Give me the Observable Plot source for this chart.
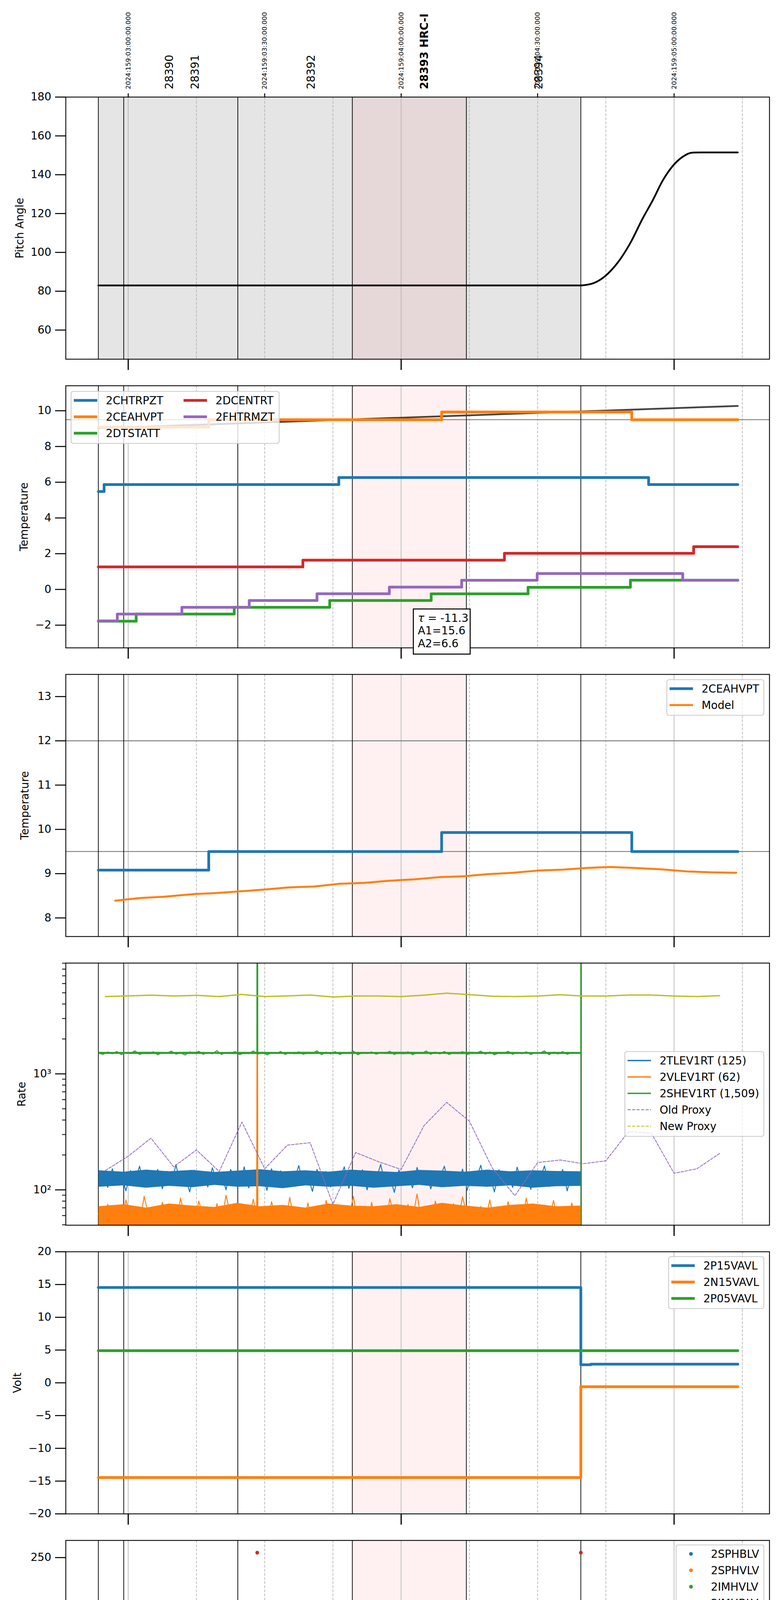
<!DOCTYPE html>
<html><head><meta charset="utf-8">
<script src="https://cdn.jsdelivr.net/npm/d3@7"></script>
<script src="https://cdn.jsdelivr.net/npm/@observablehq/plot@0.6"></script>
<style>
body{margin:0;background:#fff;}
#page{position:relative;width:2000px;height:6200px;background:#fff;font-family:"DejaVu Sans";overflow:hidden;}
#page svg{position:absolute;left:0;overflow:visible;}
</style></head><body><div id="page"></div>
<script>
// ---------------- DATA (time in minutes relative to 23h local = 2024:159:03:00 UTC) ----------------
const hourTicks = [0, 60, 120];
const hourLabels = ["23h", "00h", "01h"];
const minorTicks = [15, 30, 45, 75, 90, 105, 135];
const minorLabels = ["15", "30", "45", "15", "30", "45", "15"];
const halfHourTicks = [0, 30, 60, 90, 120];
const halfHourLabels = ["2024:159:03:00:00.000", "2024:159:03:30:00.000", "2024:159:04:00:00.000", "2024:159:04:30:00.000", "2024:159:05:00:00.000"];
const obsidTimes = [9.09, 14.78, 40.27, 65.14, 90.3];
const obsidLabels = ["28390", "28391", "28392", "28393 HRC-I", "28394"];
const obsBoundaries = [-6.57, -0.99, 24.09, 49.27, 74.34, 99.5];
const grayShade = [[-6.57, 99.5]];
const pinkShade = [[49.27, 74.34]];
const xDomain = [-13.72, 140.97];
const xLabel = "2024-06-07 (159)";

// Panel 1: pitch
const pitch = [[-6.57,83.0],[99.5,83.0],[101.0,83.4],[102.1,84.0],[104.8,87.7],[107.6,94.7],[110.3,104.5],[113.1,117.5],[115.3,126.8],[117.5,137.0],[119.7,144.5],[121.8,149.1],[124.0,151.4],[126.0,151.5],[134.0,151.5]];

// Panel 2: temperatures
const CHTRPZT = [[-6.57,5.48],[-5.3,5.87],[46.3,6.26],[114.4,5.87],[134.0,5.87]];
const CEAHVPT = [[-6.57,9.08],[17.7,9.5],[68.9,9.93],[110.7,9.5],[134.0,9.5]];
const DTSTATT = [[-6.57,-1.78],[1.75,-1.38],[23.3,-1.0],[44.3,-0.62],[66.6,-0.25],[87.9,0.12],[110.4,0.52],[134.0,0.52]];
const DCENTRT = [[-6.57,1.26],[38.4,1.64],[82.7,2.02],[124.3,2.39],[134.0,2.39]];
const FHTRMZT = [[-6.57,-1.76],[-2.4,-1.38],[11.8,-1.0],[26.6,-0.62],[41.5,-0.24],[57.4,0.13],[73.3,0.51],[89.9,0.89],[121.9,0.51],[134.0,0.51]];
const CEAHVPT_TREND = [[-6.57,9.02],[134.0,10.27]];
const fitText = ["= -11.3", "A1=15.6", "A2=6.6"];

// Panel 3: 2CEAHVPT vs model
const CEAHVPT_MODEL = [[-2.85,8.39],[2.52,8.45],[7.99,8.48],[14.56,8.54],[18.94,8.56],[24.41,8.60],[29.89,8.64],[35.36,8.69],[40.84,8.71],[46.31,8.77],[51.79,8.79],[57.26,8.84],[62.74,8.87],[68.21,8.92],[73.68,8.94],[79.16,8.99],[84.64,9.02],[90.10,9.07],[95.58,9.09],[101.06,9.13],[105.98,9.15],[110.91,9.13],[116.93,9.10],[122.95,9.05],[128.43,9.03],[133.68,9.02]];
const limits3 = [12, 9.5];

// Panel 4: rates (sampled every 1 min from noiseStart)
const noiseStart = -6.5, noiseStep = 1;
const TLEV1RT = [118,140,105,152,112,135,98,147,120,160, 108,138,126,150,102,145,115,165,110,132, 96,148,124,140,106,155,118,136,100,150, 128,112,158,104,142,120,134,99,152,116, 146,108,138,122,162,110,130,97,150,118, 144,106,137,125,158,103,141,114,149,100, 136,122,166,109,131,95,148,120,139,104, 156,117,145,102,133,127,160,108,142,113, 151,99,138,124,163,111,135,96,149,119, 143,105,157,115,139,101,146,123,161,107, 134,112,150,98,141,120,130];
const VLEV1RT = [62,48,75,55,68,45,82,58,70,50, 88,60,66,47,78,54,72,46,85,57, 64,49,80,59,69,44,76,52,90,61, 67,48,74,56,83,50,65,46,79,58, 71,47,86,55,63,49,77,53,70,45, 81,60,66,48,73,57,88,51,64,46, 78,54,69,47,84,59,62,50,75,56, 92,52,68,45,80,58,65,49,76,53, 87,60,63,47,72,55,82,51,67,46, 79,57,70,48,85,54,64,50,74,56, 81,52,66,47,77,58,69];
const SHEV1RT = [1510,1475,1545,1490,1560,1465,1530,1500,1580,1470, 1520,1495,1550,1460,1535,1505,1570,1480,1515,1455, 1545,1500,1565,1475,1525,1490,1585,1470,1530,1510, 1555,1465,1520,1495,1575,1480,1540,1460,1515,1500, 1560,1470,1535,1490,1550,1475,1525,1505,1580,1465, 1540,1485,1555,1470,1520,1500,1570,1460,1530,1495, 1545,1480,1515,1505,1565,1470,1535,1490,1550,1465, 1525,1500,1575,1475,1540,1485,1560,1470,1520,1495, 1555,1465,1530,1505,1570,1480,1545,1460,1515,1500, 1565,1475,1535,1490,1550,1470,1525,1505,1580,1465, 1540,1485,1555,1475,1520,1500,1510];
const bandT = [-6.5,-1,4,9,14,19,24,29,34,39,44,49,54,59,64,69,74,79,84,89,94,99.5];
const TLEV_LO = [106,109,104,108,105,110,106,107,103,109,106,108,104,107,110,105,108,106,109,104,107,108];
const TLEV_HI = [147,143,149,144,148,142,146,150,144,147,143,149,145,142,148,146,143,149,144,147,145,144];
const VLEV_LO = [40,40,40,40,40,40,40,40,40,40,40,40,40,40,40,40,40,40,40,40,40,40];
const VLEV_HI = [72,75,70,76,73,71,77,72,74,70,76,73,72,75,71,77,73,70,74,76,72,73];
const SHEV_LO = [1478,1482,1475,1480,1477,1483,1476,1479,1481,1474,1480,1478,1482,1476,1479,1481,1475,1480,1477,1483,1478,1480];
const SHEV_HI = [1542,1538,1546,1540,1544,1537,1543,1541,1539,1545,1540,1542,1538,1544,1541,1539,1545,1540,1543,1537,1542,1540];
const VLEV_GLITCH = [[28.26,60],[28.32,1480],[28.42,1480],[28.48,60]];
const SHEV_GLITCH1 = [[28.3,1509],[28.34,1e6],[28.42,1e6],[28.46,1509]];
const SHEV_GLITCH2 = [[99.5,1509],[99.5,1e6],[99.6,1e6],[99.6,1]];
const proxyT = [-5,0,5,10,15,20,25,30,35,40,45,50,55,60,65,70,75,80,85,90,95,100,105,110,115,120,125,130];
const oldProxy = [147,195,279,158,221,144,384,152,243,255,75,210,175,150,357,568,391,155,89,172,181,168,178,318,308,139,152,206];
const newProxy = [4640,4700,4770,4690,4755,4640,4840,4640,4700,4780,4600,4690,4690,4640,4770,4960,4820,4670,4640,4690,4810,4690,4690,4780,4780,4690,4640,4720];
const rateMajor = [100, 1000], rateMajorLabels = ["10²", "10³"];
const rateMinor = [50,60,70,80,90,200,300,400,500,600,700,800,900,2000,3000,4000,5000,6000,7000,8000,9000];

// Panel 5: volts
const P15VAVL = [[-6.57,14.55],[99.5,2.75],[101.7,2.85],[134.0,2.85]];
const N15VAVL = [[-6.57,-14.45],[99.5,-0.6],[134.0,-0.6]];
const P05VAVL = [[-6.57,4.9],[134.0,4.9]];

// Panel 6: HV monitor
const IMHBLV = [[-6.57,86],[99.5,86]];
const IMHBLV_OUT = [[28.36,255],[99.5,255]];
const IMHVLV = [[-6.57,80.0],[-4,79.2],[-1,79.6],[2,78.8],[5,79.4],[8,79.0],[11,79.8],[14,78.9],[17,79.3],[20,79.7],[23,78.8],[26,79.2],[29,79.6],[32,79.0],[35,79.5],[38,78.9],[41,79.4],[44,79.8],[47,79.0],[50,78.8],[53,79.3],[56,79.7],[59,79.1],[62,79.5],[65,78.9],[68,79.4],[71,79.8],[74,79.0],[77,79.3],[80,79.6],[83,78.9],[86,79.4],[89,79.1],[92,79.6],[95,79.0],[98,79.3],[99.5,79.2]];

// Panel 7: detector temps
const SPINATM = [[-6.57,3.15],[51.6,3.65],[99.3,3.65]];
const SPHVATM = [[-6.57,16.37],[0.66,16.71],[5.7,16.3],[5.95,16.71],[34.3,17.07],[77.7,17.41],[80.7,17.0],[80.95,17.41],[99.3,17.41]];
const IMINATM = [[-6.57,1.25],[35.7,1.73],[89.8,2.2],[99.3,2.2]];
const IMHVATM = [[-6.57,18.13],[2.3,18.57],[2.55,18.13],[3.94,18.48],[28.3,-60],[28.55,18.48],[35.5,18.84],[78.06,19.21],[99.4,19.21],[99.45,100],[99.85,-60]];

// Panel 8: FEA temps
const FRADPYT = [[-6.57,-4.42],[4.16,-4.04],[20.26,-3.65],[36.68,-3.26],[53.76,-2.88],[71.28,-2.51],[89.23,-2.13],[115.29,-2.51],[134.0,-2.51]];
const FEPRATM = [[-6.57,0.35],[4.71,0.8],[21.46,1.26],[28.3,-0.56],[28.45,1.26],[38.98,1.72],[57.26,2.19],[77.2,2.66],[97.12,3.14],[99.4,1.0],[99.45,1.0]];
const FE00ATM = [[-6.57,-1.63],[-4.95,-2.0],[-4.75,-1.63],[1.97,-1.26],[13.68,-0.93],[24.6,-1.33],[24.8,-0.93],[25.0,-0.61],[27.0,-0.98],[27.2,-0.61],[28.3,-60],[28.55,-0.61],[37.23,-0.29],[49.38,0.02],[62.52,0.35],[71.4,0.70],[71.6,0.35],[75.11,0.67],[88.79,1.0],[90.9,0.63],[91.1,1.0],[91.6,0.63],[91.8,1.0],[99.4,1.0],[99.45,100],[99.85,-60]];

// ---------------- LAYOUT ----------------
const W = 2000, ML = 168, MR = 30, PH = 671, GAP = 34, PITCH = 739, FIRST = 248;
const C = {blue:"#1f77b4", orange:"#ff7f0e", green:"#2ca02c", red:"#d62728", purple:"#9467bd", olive:"#bcbd22"};
const FS = 27.8;
const page = document.getElementById("page");
const pair = {x: d => d[0], y: d => d[1]};

function stepLine(data, stroke, w = 7) {
  return Plot.line(data, {...pair, stroke, strokeWidth: w, curve: "step-after", clip: true, strokeLinejoin: "round"});
}

function panel(i, {y, yTicks, yFmt, yLabel, labelX, marks, gray = false, last = false, before = [], after = []}) {
  const frameTop = FIRST + PITCH * i;
  const mt = i === 0 ? FIRST : GAP;
  const mb = last ? 6200 - (frameTop + PH) : GAP;
  const svgTop = frameTop - mt;
  const m = [];
  if (gray) m.push(Plot.rect(grayShade, {x1: d => d[0], x2: d => d[1], fill: "black", fillOpacity: 0.1}));
  m.push(Plot.rect(pinkShade, {x1: d => d[0], x2: d => d[1], fill: "red", fillOpacity: 0.055}));
  m.push(Plot.gridX(minorTicks, {stroke: "#b0b0b0", strokeOpacity: 1, strokeWidth: 1.6, strokeDasharray: "7,3.5"}));
  m.push(Plot.gridX(hourTicks, {stroke: "#b0b0b0", strokeOpacity: 1, strokeWidth: 1.6}));
  m.push(...before);
  m.push(Plot.ruleX(obsBoundaries, {stroke: "black", strokeWidth: 1.8}));
  m.push(...marks);
  m.push(Plot.frame({stroke: "black", strokeWidth: 2.2}));
  m.push(Plot.axisY(yTicks, {tickSize: 27, tickPadding: 10, strokeWidth: 2.6, tickFormat: yFmt, label: null}));
  if (last) {
    m.push(Plot.axisX(hourTicks, {anchor: "bottom", tickSize: 28, strokeWidth: 3, tickPadding: 10.9, label: null,
      tickFormat: d => hourLabels[hourTicks.indexOf(d)]}));
  } else {
    m.push(Plot.axisX(hourTicks, {anchor: "bottom", tickSize: 28, strokeWidth: 3, fill: "none", label: null}));
  }
  m.push(Plot.text([yLabel], {frameAnchor: "left", dx: labelX - ML, rotate: -90, text: d => d, textAnchor: "middle", fontSize: FS}));
  m.push(...after);
  const svg = Plot.plot({
    width: W, height: mt + PH + mb, marginLeft: ML, marginRight: MR, marginTop: mt, marginBottom: mb,
    x: {domain: xDomain}, y,
    style: {fontFamily: "DejaVu Sans", fontSize: FS + "px", background: "transparent", overflow: "visible", color: "black"},
    marks: m
  });
  svg.style.top = svgTop + "px";
  page.appendChild(svg);
  return {svg, svgTop};
}

function legend(p, {left, right = 1956, top, entries, cols = 1, colOffset = 281}) {
  const rowsPerCol = Math.ceil(entries.length / cols);
  const g = d3.select(p.svg).append("g").attr("font-family", "DejaVu Sans").attr("font-size", FS + "px")
    .attr("text-anchor", "start").attr("fill", "black");
  const rect = g.append("rect");
  const texts = [];
  entries.forEach((e, k) => {
    const col = Math.floor(k / rowsPerCol), row = k % rowsPerCol;
    const ox = col * colOffset, oy = 23 + 42 * row;
    if (e.kind === "dot") {
      g.append("circle").attr("cx", ox + 38).attr("cy", oy).attr("r", 4.8).attr("fill", e.color);
    } else {
      g.append("line").attr("x1", ox + 7).attr("x2", ox + 67).attr("y1", oy).attr("y2", oy)
        .attr("stroke", e.color).attr("stroke-width", e.w || 7).attr("stroke-dasharray", e.dash || null);
    }
    const t = g.append("text").attr("x", ox + 89).attr("y", oy).attr("dy", "0.36em")
      .attr("text-anchor", "start").text(e.label);
    texts.push({t, col});
  });
  let maxW = 0;
  texts.forEach(({t, col}) => { if (col === cols - 1) maxW = Math.max(maxW, t.node().getComputedTextLength()); });
  const width = (cols - 1) * colOffset + 89 + maxW + 12;
  const height = rowsPerCol * 42 + 7;
  rect.attr("x", 0).attr("y", 0).attr("width", width).attr("height", height).attr("rx", 5.6)
    .attr("fill", "white").attr("fill-opacity", 0.8).attr("stroke", "#cccccc").attr("stroke-width", 2.2);
  const bx = left !== undefined ? left : right - width;
  g.attr("transform", `translate(${bx},${top - p.svgTop})`);
}

// ---------------- PANEL 1 ----------------
const obsids = obsidTimes.map((t, k) => ({t, label: obsidLabels[k]}));
const p1 = panel(0, {
  y: {domain: [45, 180]}, yTicks: [60, 80, 100, 120, 140, 160, 180], yFmt: d => String(d),
  yLabel: "Pitch Angle", labelX: 51, gray: true,
  marks: [Plot.line(pitch, {...pair, stroke: "black", strokeWidth: 4.5, curve: "monotone-x", clip: true})],
  after: [
    Plot.axisX(halfHourTicks, {anchor: "top", tickSize: 10, strokeWidth: 2.5, fill: "none", label: null}),
    Plot.text(halfHourTicks, {x: d => d, text: (d, k) => halfHourLabels[k], frameAnchor: "top", dy: -20, rotate: -90, textAnchor: "start", lineAnchor: "middle", fontSize: 16.7}),
    Plot.text(obsids.filter(d => !d.label.includes("HRC")), {x: "t", text: "label", frameAnchor: "top", dy: -20, rotate: -90, textAnchor: "start", lineAnchor: "middle", fontSize: FS}),
    Plot.text(obsids.filter(d => d.label.includes("HRC")), {x: "t", text: "label", frameAnchor: "top", dy: -20, rotate: -90, textAnchor: "start", lineAnchor: "middle", fontSize: FS, fontWeight: "bold"})
  ]
});

// ---------------- PANEL 2 ----------------
const p2 = panel(1, {
  y: {domain: [-3.27, 11.4]}, yTicks: [-2, 0, 2, 4, 6, 8, 10], yFmt: d => d3.format("d")(d).replace("-", "−"),
  yLabel: "Temperature", labelX: 62,
  before: [Plot.ruleY([9.5], {stroke: "#808080", strokeWidth: 2.2})],
  marks: [
    Plot.line(CEAHVPT_TREND, {...pair, stroke: "#444444", strokeWidth: 4.5}),
    stepLine(CHTRPZT, C.blue), stepLine(CEAHVPT, C.orange), stepLine(DTSTATT, C.green),
    stepLine(DCENTRT, C.red), stepLine(FHTRMZT, C.purple)
  ]
});
legend(p2, {left: 182, top: 1002, cols: 2, entries: [
  {label: "2CHTRPZT", color: C.blue}, {label: "2CEAHVPT", color: C.orange}, {label: "2DTSTATT", color: C.green},
  {label: "2DCENTRT", color: C.red}, {label: "2FHTRMZT", color: C.purple}]});
{
  const g = d3.select(p2.svg).append("g").attr("font-family", "DejaVu Sans").attr("font-size", FS + "px")
    .attr("text-anchor", "start").attr("fill", "black");
  const top = 1559 - p2.svgTop;
  g.append("rect").attr("x", 1058.5).attr("y", top).attr("width", 145.5).attr("height", 115.5)
    .attr("fill", "white").attr("stroke", "black").attr("stroke-width", 2.6);
  const t0 = g.append("text").attr("x", 1070).attr("y", 1581.7 - p2.svgTop).attr("dy", "0.36em");
  t0.append("tspan").attr("font-style", "italic").text("τ");
  t0.append("tspan").text(" " + fitText[0]);
  g.append("text").attr("x", 1070).attr("y", 1614.3 - p2.svgTop).attr("dy", "0.36em").text(fitText[1]);
  g.append("text").attr("x", 1070).attr("y", 1646.7 - p2.svgTop).attr("dy", "0.36em").text(fitText[2]);
}

// ---------------- PANEL 3 ----------------
const p3 = panel(2, {
  y: {domain: [7.58, 13.5]}, yTicks: [8, 9, 10, 11, 12, 13], yFmt: d => String(d),
  yLabel: "Temperature", labelX: 64,
  before: [Plot.ruleY(limits3, {stroke: "#808080", strokeWidth: 2.4})],
  marks: [
    stepLine(CEAHVPT, C.blue),
    Plot.line(CEAHVPT_MODEL, {...pair, stroke: C.orange, strokeWidth: 5})
  ]
});
legend(p3, {top: 1740, entries: [{label: "2CEAHVPT", color: C.blue}, {label: "Model", color: C.orange, w: 5}]});

// ---------------- PANEL 4 ----------------
const noiseT = k => noiseStart + k * noiseStep;
const bandData = (lo, hi) => bandT.map((t, k) => ({t, lo: lo[k], hi: hi[k]}));
const noiseLine = (vals, stroke) => Plot.line(vals, {x: (d, k) => noiseT(k), y: d => d, stroke, strokeWidth: 2.4, clip: true});
const noiseBand = (lo, hi, fill) => Plot.areaY(bandData(lo, hi), {x: "t", y1: "lo", y2: "hi", fill, clip: true});
const p4 = panel(3, {
  y: {type: "log", domain: [49.6, 9016]}, yTicks: rateMajor, yFmt: d => rateMajorLabels[rateMajor.indexOf(d)],
  yLabel: "Rate", labelX: 56,
  marks: [
    noiseBand(TLEV_LO, TLEV_HI, C.blue), noiseLine(TLEV1RT, C.blue),
    noiseBand(VLEV_LO, VLEV_HI, C.orange), noiseLine(VLEV1RT, C.orange),
    Plot.line(VLEV_GLITCH, {...pair, stroke: C.orange, strokeWidth: 3, clip: true}),
    noiseBand(SHEV_LO, SHEV_HI, C.green), noiseLine(SHEV1RT, C.green),
    Plot.line(SHEV_GLITCH1, {...pair, stroke: C.green, strokeWidth: 3, clip: true}),
    Plot.line(SHEV_GLITCH2, {...pair, stroke: C.green, strokeWidth: 3, clip: true}),
    Plot.line(proxyT.map((t, k) => [t, oldProxy[k]]), {...pair, stroke: C.purple, strokeWidth: 2, strokeDasharray: "7,3.5", clip: true}),
    Plot.line(proxyT.map((t, k) => [t, newProxy[k]]), {...pair, stroke: C.olive, strokeWidth: 3.5, strokeDasharray: "4,2.5", clip: true})
  ],
  after: [Plot.axisY(rateMinor, {tickSize: 9, strokeWidth: 2, fill: "none", label: null})]
});
legend(p4, {top: 2692, entries: [
  {label: "2TLEV1RT (125)", color: C.blue, w: 3.3}, {label: "2VLEV1RT (62)", color: C.orange, w: 3.3},
  {label: "2SHEV1RT (1,509)", color: C.green, w: 3.3}, {label: "Old Proxy", color: C.purple, w: 2.2, dash: "8,3.5"},
  {label: "New Proxy", color: C.olive, w: 2.2, dash: "8,3.5"}]});

// ---------------- PANEL 5 ----------------
const p5 = panel(4, {
  y: {domain: [-20, 20]}, yTicks: [-20, -15, -10, -5, 0, 5, 10, 15, 20], yFmt: d => String(d).replace("-", "−"),
  yLabel: "Volt", labelX: 45,
  marks: [stepLine(P15VAVL, C.blue), stepLine(N15VAVL, C.orange), stepLine(P05VAVL, C.green)]
});
legend(p5, {top: 3217, entries: [{label: "2P15VAVL", color: C.blue}, {label: "2N15VAVL", color: C.orange}, {label: "2P05VAVL", color: C.green}]});

// ---------------- PANEL 6 ----------------
const p6 = panel(5, {
  y: {domain: [0, 267.5]}, yTicks: [0, 50, 100, 150, 200, 250], yFmt: d => String(d),
  yLabel: "HV Monitor", labelX: 51,
  marks: [
    Plot.line(IMHVLV, {...pair, stroke: C.green, strokeWidth: 9, strokeLinecap: "round"}),
    Plot.line(IMHBLV, {...pair, stroke: C.red, strokeWidth: 9, strokeLinecap: "round"}),
    Plot.dot(IMHBLV_OUT, {...pair, fill: C.red, r: 4.8})
  ]
});
legend(p6, {top: 3955, entries: [
  {label: "2SPHBLV", color: C.blue, kind: "dot"}, {label: "2SPHVLV", color: C.orange, kind: "dot"},
  {label: "2IMHVLV", color: C.green, kind: "dot"}, {label: "2IMHBLV", color: C.red, kind: "dot"}]});

// ---------------- PANEL 7 ----------------
const p7 = panel(6, {
  y: {domain: [-0.26, 20.34]}, yTicks: [0, 2.5, 5, 7.5, 10, 12.5, 15, 17.5, 20], yFmt: d => d.toFixed(1),
  yLabel: "Detector Temp", labelX: 41,
  marks: [stepLine(SPINATM, C.blue), stepLine(SPHVATM, C.orange), stepLine(IMINATM, C.green), stepLine(IMHVATM, C.red)]
});
legend(p7, {top: 4695, entries: [{label: "2SPINATM", color: C.blue}, {label: "2SPHVATM", color: C.orange}, {label: "2IMINATM", color: C.green}, {label: "2IMHVATM", color: C.red}]});

// ---------------- PANEL 8 ----------------
const p8 = panel(7, {
  y: {domain: [-5.54, 3.68]}, yTicks: [-4, -2, 0, 2], yFmt: d => String(d).replace("-", "−"),
  yLabel: "FEA Temp", labelX: 61, last: true,
  marks: [stepLine(FHTRMZT, C.blue), stepLine(FRADPYT, C.orange), stepLine(FEPRATM, C.green), stepLine(FE00ATM, C.red)],
  after: [
    Plot.axisX(minorTicks, {anchor: "bottom", tickSize: 0, tickPadding: 9.2, fontSize: 16.7, label: null, tickFormat: d => minorLabels[minorTicks.indexOf(d)]}),
    Plot.text([xLabel], {frameAnchor: "bottom", dy: 87, text: d => d, fontSize: 33.4})
  ]
});
legend(p8, {top: 5435, entries: [{label: "2FHTRMZT", color: C.blue}, {label: "2FRADPYT", color: C.orange}, {label: "2FEPRATM", color: C.green}, {label: "2FE00ATM", color: C.red}]});
</script></body></html>
